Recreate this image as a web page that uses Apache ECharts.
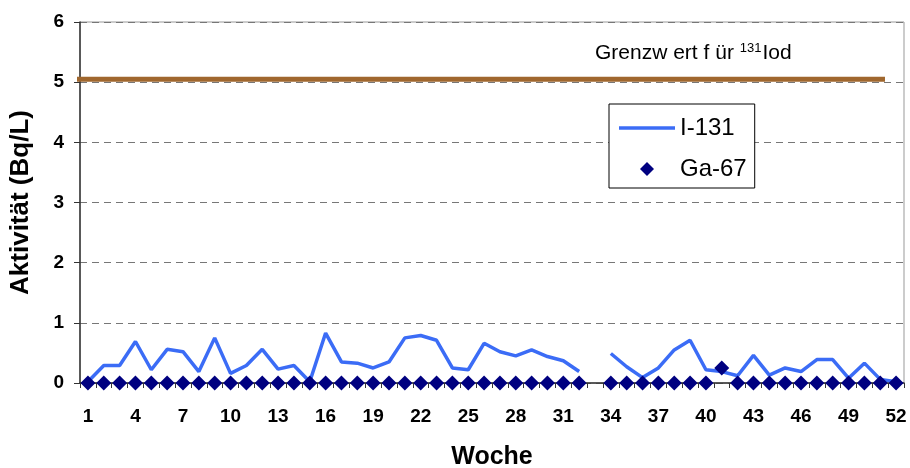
<!DOCTYPE html>
<html>
<head>
<meta charset="utf-8">
<script src="https://cdn.jsdelivr.net/npm/echarts@6/dist/echarts.min.js"></script>
<style>
  html, body { margin: 0; padding: 0; background: #fff; }
  #chart { width: 910px; height: 468px; }
</style>
</head>
<body>
<div id="chart"></div>
<script>
// Kalenderwochen 1–52
const weeks = Array.from({ length: 52 }, (_, i) => String(i + 1));

// Wöchentliche Aktivität I-131 (Bq/L); Woche 33 ohne Messung
const i131 = [
  0.02, 0.29, 0.29, 0.69, 0.22, 0.56, 0.52, 0.19, 0.75, 0.16,
  0.29, 0.56, 0.23, 0.29, 0.02, 0.83, 0.35, 0.33, 0.25, 0.35,
  0.75, 0.79, 0.71, 0.25, 0.22, 0.66, 0.52, 0.45, 0.55, 0.44,
  0.37, 0.19, null, 0.49, 0.27, 0.09, 0.25, 0.55, 0.71, 0.22,
  0.19, 0.12, 0.46, 0.13, 0.25, 0.19, 0.39, 0.39, 0.08, 0.33,
  0.06, 0.02
];

// Wöchentliche Aktivität Ga-67 (Bq/L); Woche 33 ohne Messung
const ga67 = [
  0, 0, 0, 0, 0, 0, 0, 0, 0, 0,
  0, 0, 0, 0, 0, 0, 0, 0, 0, 0,
  0, 0, 0, 0, 0, 0, 0, 0, 0, 0,
  0, 0, null, 0, 0, 0, 0, 0, 0, 0,
  0.25, 0, 0, 0, 0, 0, 0, 0, 0, 0,
  0, 0
];

// Grenzwert für I-131 und Ausdehnung der Linie (in Wochen-Einheiten)
const grenzwert = 5.05;
const grenzSpan = [-1.13, 50.8];

const yTicks = [0, 1, 2, 3, 4, 5, 6];

const FONT = 'Liberation Sans, Arial, sans-serif';
const chart = echarts.init(document.getElementById('chart'));

chart.setOption({
  animation: false,
  backgroundColor: '#fff',
  textStyle: { fontFamily: FONT },
  grid: {
    left: 80, right: 6, top: 22, bottom: 85,
    outerBoundsMode: 'none',
    show: true, borderColor: '#999', borderWidth: 1
  },
  legend: {
    orient: 'vertical',
    left: 609,
    top: 104,
    padding: [12, 8, 7, 10],
    itemGap: 17,
    itemWidth: 56,
    itemHeight: 14,
    symbolKeepAspect: true,
    backgroundColor: '#fff',
    borderColor: '#000',
    borderWidth: 1,
    textStyle: { fontSize: 24, color: '#000', fontFamily: FONT },
    data: [
      { name: 'I-131', icon: 'path://M0,0 L56,0 L56,3.5 L0,3.5 Z' },
      { name: 'Ga-67', icon: 'path://M7,0 L14,7 L7,14 L0,7 Z' }
    ]
  },
  xAxis: [
    {
      type: 'category',
      data: weeks,
      boundaryGap: true,
      name: 'Woche',
      nameLocation: 'middle',
      nameGap: 62,
      nameTextStyle: { fontSize: 25, fontWeight: 'bold', color: '#000' },
      axisLine: { lineStyle: { color: '#333', width: 1.5 } },
      axisTick: { show: true, interval: 0, length: 5, lineStyle: { color: '#333' } },
      axisLabel: { interval: 2, margin: 24, fontSize: 19, fontWeight: 'bold', color: '#000' },
      splitLine: { show: false }
    },
    {
      type: 'value',
      min: 0,
      max: 52,
      show: false
    }
  ],
  yAxis: {
    type: 'value',
    min: 0,
    max: 6,
    interval: 1,
    name: 'Aktivität (Bq/L)',
    nameLocation: 'middle',
    nameGap: 46,
    nameTextStyle: { fontSize: 26, fontWeight: 'bold', color: '#000' },
    axisLine: { show: true, lineStyle: { color: '#333', width: 1.5 } },
    axisTick: { show: true, length: 6, lineStyle: { color: '#333' } },
    axisLabel: {
      fontSize: 19, fontWeight: 'bold', color: '#000', margin: 16,
      formatter: v => (yTicks.includes(v) ? String(v) : '')
    },
    splitLine: { show: true, lineStyle: { color: '#777', type: [7, 5], width: 1 } }
  },
  graphic: [
    {
      type: 'text',
      left: 595,
      top: 42,
      style: {
        rich: {
          t: { fontSize: 21, fill: '#000', fontFamily: FONT },
          s: { fontSize: 13, fill: '#000', fontFamily: FONT, verticalAlign: 'top', padding: [0, 1, 9, 0] }
        },
        text: '{t|Grenzw ert f ür }{s|131}{t|Iod}'
      }
    }
  ],
  series: [
    {
      name: 'Grenzwert',
      type: 'line',
      xAxisIndex: 1,
      data: grenzSpan.map(x => [x, grenzwert]),
      symbol: 'none',
      clip: false,
      silent: true,
      lineStyle: { color: '#A0672E', width: 5 },
      z: 1
    },
    {
      name: 'I-131',
      type: 'line',
      data: i131,
      symbol: 'none',
      connectNulls: false,
      lineStyle: { color: '#3B6CF6', width: 3.5 },
      itemStyle: { color: '#3B6CF6' },
      z: 3
    },
    {
      name: 'Ga-67',
      type: 'scatter',
      data: ga67,
      symbol: 'diamond',
      symbolSize: [15, 15],
      itemStyle: { color: '#000080', opacity: 1 },
      z: 4
    }
  ]
});
</script>
</body>
</html>
